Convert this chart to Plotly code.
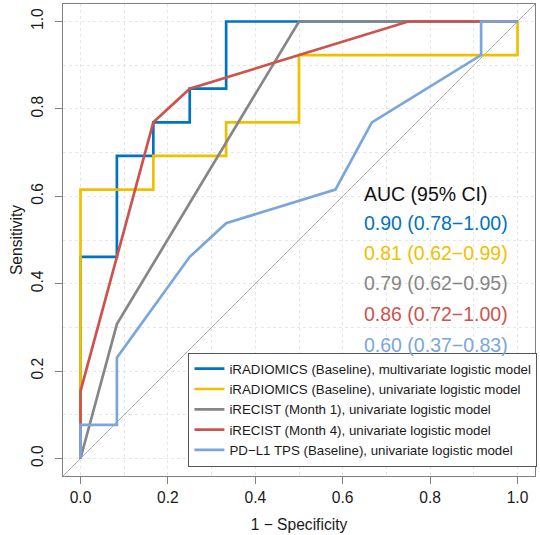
import plotly.graph_objects as go

FONT = "Liberation Sans, Arial, Helvetica, sans-serif"

# ---- data ----
model_names = [
    "iRADIOMICS (Baseline), multivariate logistic model",
    "iRADIOMICS (Baseline), univariate logistic model",
    "iRECIST (Month 1), univariate logistic model",
    "iRECIST (Month 4), univariate logistic model",
    "PD\u2212L1 TPS (Baseline), univariate logistic model",
]
colors = ["#0073C2", "#EFC000", "#868686", "#CD534C", "#7AA6DC"]

auc_title = "AUC (95% CI)"
auc_labels = [
    "0.90 (0.78\u22121.00)",
    "0.81 (0.62\u22120.99)",
    "0.79 (0.62\u22120.95)",
    "0.86 (0.72\u22121.00)",
    "0.60 (0.37\u22120.83)",
]
auc_label_y = [0.605, 0.54, 0.47, 0.402, 0.33, 0.26]  # title + 5 lines
auc_label_x = 0.645

fpr_multi = [0, 0, 0.0833, 0.0833, 0.1667, 0.1667, 0.25, 0.25, 0.3333, 0.3333, 1]
tpr_multi = [0, 0.4615, 0.4615, 0.6923, 0.6923, 0.7692, 0.7692, 0.8462, 0.8462, 1, 1]

fpr_radio = [0, 0, 0.1667, 0.1667, 0.3333, 0.3333, 0.5, 0.5, 1, 1]
tpr_radio = [0, 0.6154, 0.6154, 0.6923, 0.6923, 0.7692, 0.7692, 0.9231, 0.9231, 1]

fpr_m1 = [0, 0.0833, 0.5, 1]
tpr_m1 = [0, 0.3077, 1, 1]

fpr_m4 = [0, 0, 0.1667, 0.25, 0.75, 1]
tpr_m4 = [0, 0.1538, 0.7692, 0.8462, 1, 1]

fpr_pdl1 = [0, 0, 0.0833, 0.0833, 0.25, 0.3333, 0.5833, 0.6667, 0.9167, 0.9167, 1]
tpr_pdl1 = [0, 0.0769, 0.0769, 0.2308, 0.4615, 0.5385, 0.6154, 0.7692, 0.9231, 1, 1]

curves_fpr = [fpr_multi, fpr_radio, fpr_m1, fpr_m4, fpr_pdl1]
curves_tpr = [tpr_multi, tpr_radio, tpr_m1, tpr_m4, tpr_pdl1]

AXIS_RANGE = [-0.04, 1.04]
tick_vals = [0, 0.2, 0.4, 0.6, 0.8, 1.0]
tick_text = ["0.0", "0.2", "0.4", "0.6", "0.8", "1.0"]

fig = go.Figure()

# chance diagonal across the full plotting region
fig.add_trace(go.Scatter(x=AXIS_RANGE, y=AXIS_RANGE, mode="lines",
                         line=dict(color="#b0b0b0", width=1),
                         showlegend=False, hoverinfo="skip"))

for name, col, fx, fy in zip(model_names, colors, curves_fpr, curves_tpr):
    fig.add_trace(go.Scatter(x=fx, y=fy, mode="lines", name=name,
                             line=dict(color=col, width=2.7)))

# AUC annotations
fig.add_annotation(x=auc_label_x, y=auc_label_y[0], xref="x", yref="y",
                   text=auc_title, showarrow=False, xanchor="left", yanchor="middle",
                   font=dict(family=FONT, size=19.5, color="#111111"))
for lab, col, yy in zip(auc_labels, colors, auc_label_y[1:]):
    fig.add_annotation(x=auc_label_x, y=yy, xref="x", yref="y",
                       text=lab, showarrow=False, xanchor="left", yanchor="middle",
                       font=dict(family=FONT, size=19.5, color=col))

axis_common = dict(
    range=AXIS_RANGE, tickvals=tick_vals, ticktext=tick_text,
    showline=True, mirror=True, linecolor="#808080", linewidth=1,
    ticks="outside", ticklen=7, tickcolor="#808080", tickwidth=1,
    showgrid=True, gridcolor="#e6e6e6", griddash="dot", gridwidth=1,
    minor=dict(dtick=0.1, tick0=0, showgrid=True, gridcolor="#e6e6e6",
               griddash="dot", gridwidth=1, ticklen=0),
    zeroline=False,
    tickfont=dict(family=FONT, size=15.6, color="#1a1a1a"),
)

fig.update_xaxes(**axis_common,
                 title=dict(text="1 \u2212 Specificity",
                            font=dict(family=FONT, size=15.6, color="#1a1a1a"),
                            standoff=14))
fig.update_yaxes(**axis_common, tickangle=-90, ticklabelstandoff=6,
                 title=dict(text="Sensitivity",
                            font=dict(family=FONT, size=15.6, color="#1a1a1a"),
                            standoff=2))

fig.update_layout(
    width=540, height=535,
    margin=dict(l=63, r=4, t=4, b=59),
    plot_bgcolor="white", paper_bgcolor="white",
    font=dict(family=FONT),
    legend=dict(
        x=1.003, y=0.02, xanchor="right", yanchor="bottom",
        bgcolor="white", bordercolor="#555555", borderwidth=1,
        font=dict(family=FONT, size=13.3, color="#1a1a1a"),
    ),
)

fig.write_html("out.html",
               config={"displayModeBar": False},
               post_script="document.body.style.margin='0';document.body.style.overflow='hidden';")
